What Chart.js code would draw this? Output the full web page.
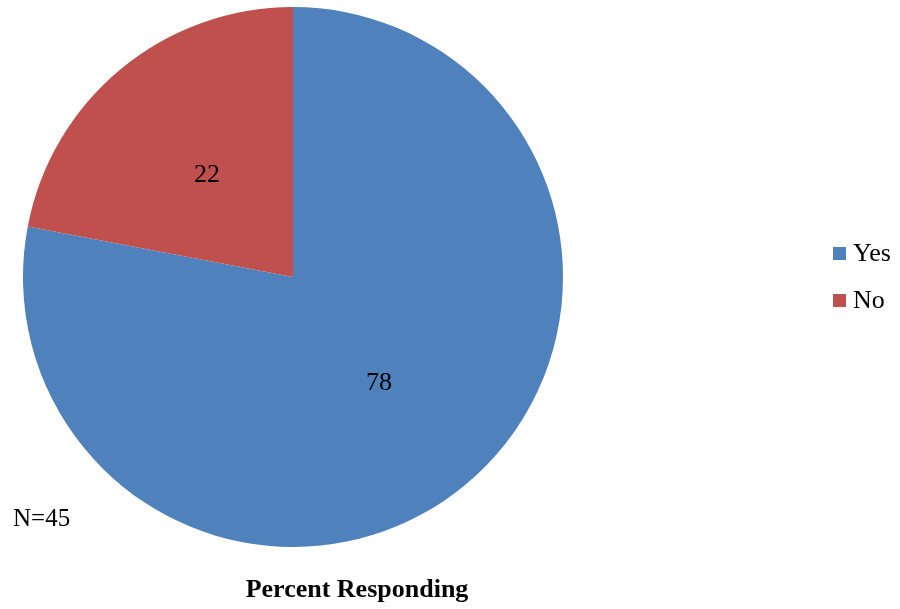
<!DOCTYPE html>
<html>
<head>
<meta charset="utf-8">
<script src="https://cdn.jsdelivr.net/npm/chart.js@4/dist/chart.umd.min.js"></script>
<style>
  html, body { margin: 0; padding: 0; background: #fff; }
  #wrap { width: 900px; height: 609px; }
</style>
</head>
<body>
<div id="wrap"><canvas id="chart"></canvas></div>
<script>
const categories = ['Yes', 'No'];
const percents = [78, 22];
const colors = ['#4F81BD', '#C0504D'];
const titleText = 'Percent Responding';
const noteText = 'N=45';
const fontFamily = '"Liberation Serif", "DejaVu Serif", serif';

// slice value labels at half radius
const sliceLabels = {
    id: 'sliceLabels',
    afterDatasetsDraw(chart) {
        const ctx = chart.ctx;
        const meta = chart.getDatasetMeta(0);
        ctx.save();
        ctx.font = '26px ' + fontFamily;
        ctx.fillStyle = '#000';
        ctx.textAlign = 'center';
        ctx.textBaseline = 'alphabetic';
        meta.data.forEach((arc, i) => {
            const mid = (arc.startAngle + arc.endAngle) / 2;
            const r = arc.outerRadius * 0.5;
            ctx.fillText(String(percents[i]), arc.x + Math.cos(mid) * r, arc.y + Math.sin(mid) * r + 9);
        });
        ctx.restore();
    }
};

// legend on the right, title and note at the bottom
const extras = {
    id: 'extras',
    afterDraw(chart) {
        const ctx = chart.ctx;
        ctx.save();
        ctx.textBaseline = 'alphabetic';
        ctx.font = '26px ' + fontFamily;
        categories.forEach((c, i) => {
            const y = 254 + i * 47;
            ctx.fillStyle = colors[i];
            ctx.fillRect(833, y - 7, 13, 13);
            ctx.fillStyle = '#000';
            ctx.textAlign = 'left';
            ctx.fillText(c, 853, y + 7);
        });
        ctx.font = '25px ' + fontFamily;
        ctx.fillText(noteText, 13, 526);
        ctx.font = 'bold 26px ' + fontFamily;
        ctx.textAlign = 'center';
        ctx.fillText(titleText, 357, 597);
        ctx.restore();
    }
};

new Chart(document.getElementById('chart'), {
    type: 'pie',
    data: {
        labels: categories,
        datasets: [{
            data: percents,
            backgroundColor: colors,
            borderWidth: 0,
        }],
    },
    options: {
        responsive: true,
        maintainAspectRatio: false,
        animation: false,
        layout: {
            padding: { left: 23, top: 7, right: 337, bottom: 62 },
        },
        plugins: {
            legend: { display: false },
            tooltip: { enabled: false },
        },
    },
    plugins: [sliceLabels, extras],
});
</script>
</body>
</html>
